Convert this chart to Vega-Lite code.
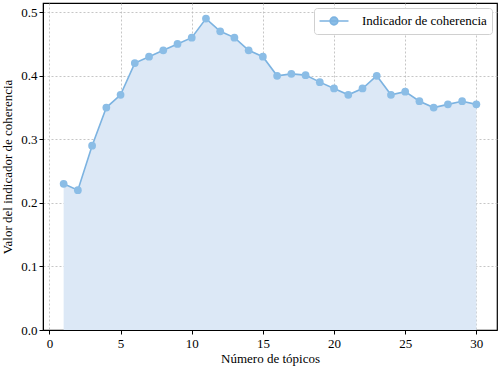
{
  "$schema": "https://vega.github.io/schema/vega-lite/v6.json",
  "width": 454,
  "height": 327,
  "autosize": {"type": "none"},
  "padding": {"left": 43, "top": 3, "right": 3, "bottom": 38},
  "background": "white",
  "config": {
    "font": "Liberation Serif",
    "view": {"stroke": "black", "strokeWidth": 1.2},
    "axis": {
      "labelFont": "Liberation Serif",
      "titleFont": "Liberation Serif",
      "labelFontSize": 13,
      "titleFontSize": 13,
      "titleFontWeight": "normal",
      "labelColor": "black",
      "titleColor": "black",
      "domainColor": "black",
      "tickColor": "black",
      "tickSize": 4,
      "gridColor": "#b8b8b8",
      "gridDash": [2, 2],
      "gridWidth": 0.8
    }
  },
  "data": {
    "values": [
      {"k": 1, "v": 0.23}, {"k": 2, "v": 0.22}, {"k": 3, "v": 0.29}, {"k": 4, "v": 0.35},
      {"k": 5, "v": 0.37}, {"k": 6, "v": 0.42}, {"k": 7, "v": 0.43}, {"k": 8, "v": 0.44},
      {"k": 9, "v": 0.45}, {"k": 10, "v": 0.46}, {"k": 11, "v": 0.49}, {"k": 12, "v": 0.47},
      {"k": 13, "v": 0.46}, {"k": 14, "v": 0.44}, {"k": 15, "v": 0.43}, {"k": 16, "v": 0.40},
      {"k": 17, "v": 0.403}, {"k": 18, "v": 0.401}, {"k": 19, "v": 0.39}, {"k": 20, "v": 0.38},
      {"k": 21, "v": 0.37}, {"k": 22, "v": 0.38}, {"k": 23, "v": 0.40}, {"k": 24, "v": 0.37},
      {"k": 25, "v": 0.375}, {"k": 26, "v": 0.36}, {"k": 27, "v": 0.35}, {"k": 28, "v": 0.355},
      {"k": 29, "v": 0.36}, {"k": 30, "v": 0.355}
    ]
  },
  "encoding": {
    "x": {
      "field": "k", "type": "quantitative",
      "scale": {"domain": [-0.45, 31.45], "nice": false, "zero": false},
      "axis": {"values": [0, 5, 10, 15, 20, 25, 30], "title": "Número de tópicos", "titlePadding": 2, "labelPadding": 3}
    },
    "y": {
      "field": "v", "type": "quantitative",
      "scale": {"domain": [0, 0.5145], "nice": false},
      "axis": {"values": [0, 0.1, 0.2, 0.3, 0.4, 0.5], "format": ".1f", "title": "Valor del indicador de coherencia", "titlePadding": 6}
    }
  },
  "layer": [
    {"mark": {"type": "area", "color": "#dce8f6", "opacity": 1}},
    {
      "mark": {"type": "line", "strokeWidth": 1.6},
      "encoding": {
        "color": {
          "datum": "Indicador de coherencia",
          "scale": {"range": ["#7cb3e1"]},
          "legend": {
            "title": null,
            "orient": "top-right",
            "offset": 5,
            "padding": 5,
            "strokeColor": "#d0d0d0",
            "fillColor": "white",
            "cornerRadius": 3,
            "labelFont": "Liberation Serif",
            "labelFontSize": 13,
            "labelColor": "black",
            "symbolType": "M-2.07,0H2.07M-0.55,0A0.55,0.55 0 1,0 0.55,0A0.55,0.55 0 1,0 -0.55,0Z",
            "symbolSize": 196,
            "symbolOffset": 7,
            "symbolFillColor": "#8bbde6",
            "symbolStrokeColor": "#7cb3e1",
            "symbolStrokeWidth": 1.6,
            "labelOffset": 20
          }
        }
      }
    },
    {"mark": {"type": "point", "filled": true, "size": 60, "color": "#8bbde6", "opacity": 1}}
  ]
}
